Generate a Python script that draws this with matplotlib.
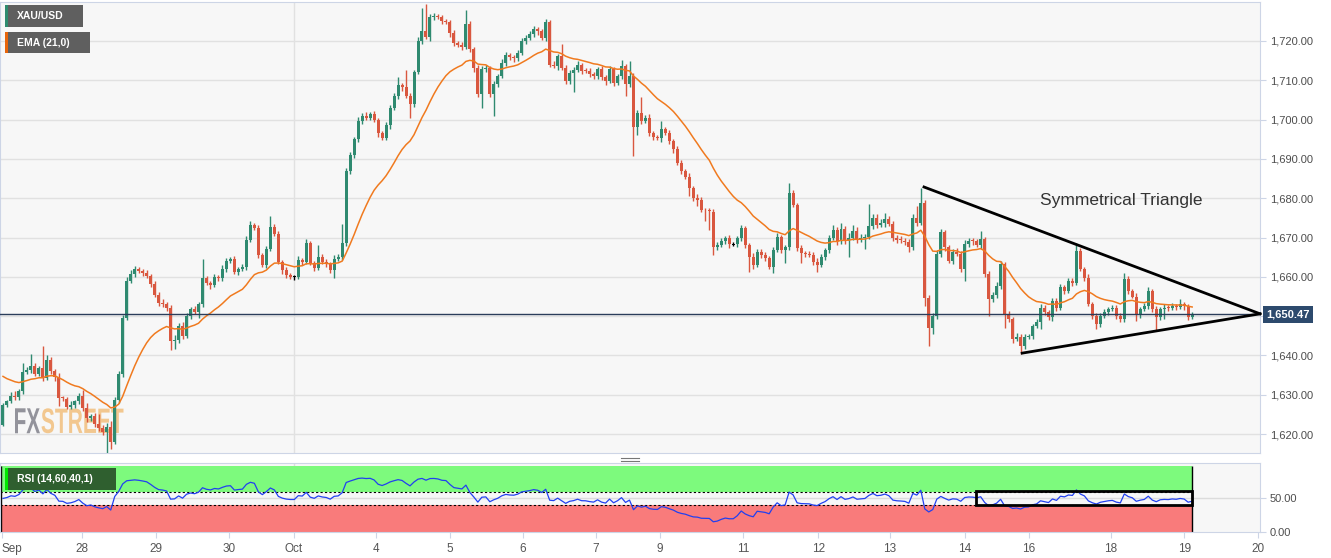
import numpy as np
import matplotlib
matplotlib.use("Agg")
import matplotlib.pyplot as plt
from matplotlib.patches import Rectangle, PathPatch
from matplotlib.lines import Line2D
from matplotlib.textpath import TextPath
from matplotlib.font_manager import FontProperties
from matplotlib.transforms import Affine2D, IdentityTransform, blended_transform_factory

plt.rcParams['font.family'] = ['Liberation Sans', 'DejaVu Sans']

# --- data (hourly XAU/USD candles) ---
first_open = 1622.4
closes = [
    1627.5, 1628.3, 1629.8, 1629.4, 1631.0, 1635.8, 1636.4, 1637.3, 1635.4, 1636.8,
    1634.3, 1638.8, 1636.0, 1634.5, 1629.2, 1629.0, 1627.0, 1627.4, 1628.3, 1629.8,
    1626.6, 1624.0, 1624.5, 1622.6, 1621.5, 1620.6, 1621.8, 1618.1, 1628.8, 1635.2,
    1649.6, 1659.0, 1660.7, 1662.0, 1661.6, 1661.0, 1660.3, 1658.1, 1655.5, 1653.4,
    1653.0, 1652.2, 1643.7, 1644.0, 1647.5, 1645.0, 1650.0, 1651.7, 1651.0, 1653.0,
    1659.8, 1658.4, 1657.8, 1660.0, 1659.6, 1662.0, 1664.0, 1664.5, 1661.3, 1662.0,
    1662.5, 1669.4, 1673.2, 1672.5, 1665.6, 1663.0, 1667.0, 1672.8, 1671.0, 1663.9,
    1661.7, 1660.5, 1660.0, 1660.0, 1664.3, 1663.9, 1668.5, 1663.5, 1662.2, 1665.0,
    1663.9, 1663.4, 1661.7, 1664.6, 1665.0, 1668.5, 1686.8, 1691.0, 1695.0, 1699.6,
    1700.9, 1700.5, 1701.3, 1700.0, 1696.5, 1695.4, 1698.5, 1703.0, 1706.0, 1708.8,
    1708.2, 1706.0, 1704.0, 1712.0, 1720.0, 1722.5, 1721.0, 1726.0, 1726.4, 1726.0,
    1725.0, 1724.8, 1722.0, 1719.5, 1719.0, 1718.5, 1724.2, 1717.9, 1713.0, 1706.4,
    1712.8, 1713.2, 1706.4, 1709.0, 1711.0, 1714.5, 1716.5, 1715.8, 1715.6, 1717.0,
    1720.0, 1720.8, 1721.7, 1723.0, 1722.5, 1720.8, 1724.7, 1714.0, 1713.5, 1716.2,
    1713.2, 1709.8, 1711.9, 1712.6, 1714.0, 1712.4, 1712.3, 1711.5, 1711.0, 1712.8,
    1710.7, 1709.8, 1712.8, 1709.4, 1711.0, 1713.6, 1709.0, 1711.0, 1698.0, 1701.7,
    1699.6, 1700.5, 1696.6, 1695.5, 1695.2, 1697.5, 1696.6, 1694.5, 1692.5, 1689.0,
    1686.9, 1685.5, 1682.6, 1680.0, 1679.5, 1677.0, 1676.8, 1676.6, 1667.7, 1668.1,
    1669.1, 1669.8, 1668.3, 1668.3, 1669.8, 1672.4, 1668.1, 1665.1, 1663.0, 1666.4,
    1665.5, 1664.7, 1662.6, 1666.9, 1670.2, 1666.9, 1667.5, 1681.3, 1678.3, 1667.3,
    1666.0, 1665.8, 1665.6, 1663.9, 1663.0, 1665.1, 1666.8, 1669.8, 1672.0, 1669.0,
    1672.1, 1669.2, 1670.0, 1671.7, 1669.4, 1669.8, 1670.1, 1673.0, 1675.0, 1673.2,
    1673.6, 1674.7, 1673.5, 1670.0, 1669.4, 1669.2, 1668.9, 1667.5, 1675.0, 1673.8,
    1678.9, 1654.7, 1647.1, 1650.0, 1665.8, 1671.3, 1667.5, 1664.1, 1666.4, 1665.8,
    1662.0, 1668.3, 1669.2, 1669.0, 1668.0, 1669.6, 1660.7, 1654.3, 1655.5, 1657.7,
    1663.2, 1650.5, 1649.2, 1644.2, 1644.8, 1642.5, 1644.7, 1645.0, 1647.5, 1648.4,
    1652.2, 1651.0, 1649.7, 1653.9, 1652.0, 1657.3, 1656.5, 1659.0, 1658.5, 1666.6,
    1662.0, 1659.8, 1653.0, 1650.1, 1648.0, 1650.1, 1651.0, 1651.8, 1652.2, 1650.1,
    1649.2, 1659.4, 1656.4, 1655.0, 1650.5, 1651.8, 1652.6, 1656.4, 1651.8, 1649.7,
    1651.8, 1652.2, 1652.0, 1652.6, 1652.3, 1653.0, 1652.5, 1649.7, 1650.47,
]
up_wick = [
    0.5, 0.4, 0.8, 1.2, 0.5, 2.2, 0.6, 3.0, 0.7, 0.5,
    5.6, 1.2, 0.8, 0.5, 1.0, 0.6, 0.4, 0.9, 0.5, 0.7,
    1.5, 1.2, 0.6, 0.8, 2.5, 0.7, 1.0, 1.5, 0.6, 0.8,
    0.7, 1.0, 1.0, 0.8, 0.6, 0.5, 0.7, 0.4, 0.8, 0.6,
    0.9, 0.5, 0.6, 1.2, 0.7, 1.0, 0.8, 0.6, 0.9, 0.7,
    4.8, 0.5, 0.6, 0.8, 0.5, 0.9, 0.7, 0.6, 0.8, 0.5,
    0.7, 0.9, 1.1, 0.6, 0.8, 0.5, 0.9, 2.6, 0.6, 0.7,
    0.5, 0.8, 0.6, 0.5, 0.9, 0.6, 1.0, 0.7, 0.5, 3.1,
    0.8, 0.6, 0.5, 0.9, 0.7, 5.0, 1.0, 0.8, 0.6, 1.0,
    0.7, 0.9, 0.6, 0.8, 0.5, 0.7, 0.9, 0.6, 0.8, 1.9,
    0.6, 4.3, 0.8, 0.7, 0.9, 6.0, 6.8, 0.8, 0.6, 0.5,
    0.7, 0.6, 0.5, 0.8, 0.6, 0.7, 3.6, 0.8, 0.6, 0.9,
    0.8, 0.7, 0.5, 0.9, 0.6, 0.8, 0.7, 0.5, 0.6, 0.8,
    0.7, 0.6, 0.9, 0.8, 0.6, 0.5, 0.8, 0.7, 0.9, 0.6,
    3.1, 0.8, 0.6, 0.7, 0.9, 0.5, 0.6, 0.8, 0.7, 0.6,
    0.9, 0.7, 0.8, 0.6, 0.7, 1.5, 0.6, 3.9, 0.8, 0.7,
    4.0, 0.6, 0.8, 0.5, 0.7, 2.1, 0.6, 0.8, 0.5, 0.9,
    0.7, 0.6, 0.8, 0.5, 1.0, 0.7, 0.6, 0.8, 0.6, 0.7,
    0.8, 0.5, 0.9, 0.6, 0.7, 0.8, 0.6, 0.5, 0.9, 0.7,
    0.6, 0.8, 0.7, 0.6, 0.9, 0.5, 0.7, 2.6, 0.8, 0.6,
    0.7, 0.5, 0.9, 0.6, 0.8, 0.7, 0.6, 0.9, 1.2, 0.7,
    1.5, 0.8, 1.2, 1.6, 0.9, 1.1, 0.7, 5.5, 0.9, 1.0,
    1.2, 1.5, 0.8, 0.7, 0.6, 0.9, 0.7, 0.8, 1.1, 3.0,
    3.8, 0.6, 0.8, 0.7, 1.0, 0.9, 0.7, 0.6, 0.8, 0.9,
    0.7, 1.0, 0.8, 0.6, 0.7, 2.0, 0.6, 0.8, 0.7, 0.9,
    0.8, 0.6, 0.7, 0.5, 0.8, 0.6, 0.7, 0.5, 0.6, 0.8,
    0.9, 0.7, 0.6, 0.8, 0.7, 0.9, 0.6, 0.8, 0.7, 1.9,
    0.7, 0.6, 0.8, 0.5, 0.7, 0.6, 0.8, 0.5, 0.7, 0.6,
    0.8, 1.7, 0.7, 0.6, 0.8, 0.5, 0.7, 0.9, 0.6, 0.7,
    0.5, 0.8, 0.6, 0.7, 0.5, 1.3, 0.6, 0.7, 0.5,
]
down_wick = [
    0.4, 0.6, 0.5, 0.8, 0.6, 0.7, 0.5, 0.9, 0.6, 0.7,
    0.8, 0.5, 0.6, 0.9, 2.0, 0.7, 0.6, 0.5, 0.8, 0.6,
    0.7, 0.9, 0.6, 0.8, 0.7, 0.9, 5.6, 2.0, 0.6, 0.8,
    0.7, 0.5, 0.6, 0.8, 0.5, 0.7, 0.6, 0.8, 0.5, 0.7,
    0.6, 0.8, 2.2, 2.0, 0.7, 0.9, 0.6, 0.8, 0.5, 1.5,
    0.7, 0.6, 0.9, 0.5, 0.7, 0.6, 0.8, 0.5, 0.7, 0.9,
    0.6, 0.8, 0.5, 0.7, 0.9, 0.6, 0.8, 0.5, 0.7, 0.6,
    0.9, 0.7, 0.5, 0.8, 0.6, 0.9, 0.7, 0.6, 0.8, 0.5,
    0.7, 0.9, 0.6, 2.0, 0.5, 0.8, 0.6, 0.7, 0.9, 0.6,
    0.8, 0.5, 0.7, 0.6, 0.9, 0.7, 0.5, 0.8, 0.6, 0.7,
    0.9, 0.6, 3.5, 0.7, 0.5, 0.8, 0.6, 1.0, 0.7, 0.5,
    0.8, 0.6, 0.9, 0.7, 0.5, 0.8, 0.6, 0.7, 0.9, 0.6,
    3.4, 0.8, 0.6, 5.5, 0.7, 0.5, 0.8, 0.6, 0.9, 0.7,
    0.6, 0.8, 0.5, 0.7, 0.9, 0.6, 0.8, 0.7, 0.5, 0.9,
    0.6, 0.8, 0.7, 4.8, 0.6, 0.9, 0.5, 0.7, 0.8, 0.6,
    0.7, 0.9, 0.6, 0.8, 0.5, 0.7, 3.0, 0.6, 7.3, 1.8,
    0.8, 0.6, 0.9, 0.7, 0.5, 0.8, 0.6, 0.7, 0.9, 0.6,
    0.8, 0.5, 2.0, 0.7, 1.5, 0.6, 2.5, 4.6, 2.1, 0.8,
    0.6, 0.7, 0.9, 0.5, 0.8, 0.6, 0.7, 3.8, 0.9, 0.6,
    0.8, 0.7, 0.5, 1.7, 0.6, 0.9, 3.5, 0.7, 0.6, 0.8,
    2.6, 0.7, 0.5, 0.9, 1.7, 0.6, 0.8, 0.7, 0.5, 0.9,
    0.6, 0.8, 4.2, 0.7, 0.9, 0.6, 2.8, 0.5, 0.8, 0.7,
    0.6, 0.9, 0.5, 0.8, 0.7, 0.6, 0.9, 1.2, 0.7, 0.8,
    0.6, 2.0, 4.6, 1.7, 0.8, 0.7, 0.9, 0.6, 0.8, 0.5,
    0.7, 3.0, 0.6, 0.8, 0.5, 0.9, 0.7, 4.3, 0.6, 0.8,
    0.7, 3.4, 0.6, 0.9, 0.5, 2.2, 0.8, 0.6, 0.7, 0.5,
    1.7, 0.8, 0.6, 0.9, 0.7, 0.5, 0.8, 0.6, 0.9, 0.7,
    0.6, 0.8, 0.5, 0.9, 1.3, 0.7, 0.6, 0.8, 0.5, 0.9,
    0.7, 0.6, 0.8, 0.5, 1.7, 0.9, 0.6, 0.8, 0.7, 3.4,
    0.6, 2.5, 0.7, 0.5, 0.8, 0.6, 0.9, 0.7, 0.5,
]
ema_seed = 1635.4
rsi_seed_gain, rsi_seed_loss = 0.8, 1.2

# day boundaries (in candle index units) and their labels
day_pos = [-0.25, 19.9, 38.3, 56.7, 72.8, 93.5, 112.0, 130.3, 148.6, 164.7,
           185.5, 204.3, 222.3, 241.1, 257.0, 277.6, 296.0, 314.6]
day_labels = ["Sep", "28", "29", "30", "Oct", "4", "5", "6", "7", "9",
              "11", "12", "13", "14", "16", "18", "19", "20"]

last_price = 1650.47
tri_upper_x, tri_upper_y = [230.8, 315.0], [1682.85, 1650.6]
tri_lower_x, tri_lower_y = [255.4, 315.0], [1640.6, 1650.6]
rsi_box_x, rsi_box_y = [243.9, 298.0], [40.0, 61.4]

# --- derived series ---
c = np.array(closes)
o = np.r_[first_open, c[:-1]]
hi = np.maximum(o, c) + np.array(up_wick)
lo = np.minimum(o, c) - np.array(down_wick)
x = np.arange(len(c))

ema = []
e = ema_seed
for v in c:
    e = e + 2 / 22 * (v - e)
    ema.append(e)

rsi = []
ag, al = rsi_seed_gain, rsi_seed_loss
for d in np.diff(np.r_[first_open, c]):
    ag = (ag * 13 + max(d, 0)) / 14
    al = (al * 13 + max(-d, 0)) / 14
    rsi.append(100 - 100 / (1 + ag / al))

GREEN, RED = "#2f8a70", "#d9573f"
cols = np.where(c - o > 0.05, GREEN, np.where(o - c > 0.05, RED, "black"))

W, H = 1331, 558
fig = plt.figure(figsize=(W / 100, H / 100), dpi=100)
fig.patch.set_facecolor("white")
ax = fig.add_axes([0, 1 - 453 / H, 1260 / W, 451 / H])
ax2 = fig.add_axes([0, 1 - 531.7 / H, 1260 / W, 68.4 / H])
xlim = (-0.75, 315.0)
spine_c = "#cdd5e6"

# ---- main price panel ----
ax.set_facecolor("#f7f7f7")
ax.set_xlim(*xlim)
ax.set_ylim(1615.2, 1729.9)
ax.grid(axis="y", color="#e1e1e1", lw=1, zorder=0)
ax.axvline(day_pos[4], color="#e1e1e1", lw=1, zorder=0)

# watermark
fp = FontProperties(family=["Liberation Sans Narrow", "Liberation Sans"], weight="bold")
for word, x0, wpx, colr in [("FX", 15, 25, "#8e8e96"), ("STREET", 41.5, 82, "#f2c58a")]:
    tp = TextPath((0, 0), word, size=35, prop=fp)
    ext = tp.get_extents()
    sx = wpx / ext.width
    sy = 25 / ext.height
    tr = Affine2D().translate(-ext.x0, -ext.y0).scale(sx, sy).translate(x0, H - 433.3)
    ax.add_patch(PathPatch(tp, transform=tr + IdentityTransform(), color=colr,
                           lw=0, alpha=0.95, zorder=1, clip_on=False))

bh = np.where(np.abs(c - o) < 0.25, 0.25, c - o)
bb = np.where(np.abs(c - o) < 0.25, o - 0.125, o)
ax.vlines(x, lo, hi, colors=cols, lw=1, zorder=3)
ax.bar(x, bh, bottom=bb, width=0.75, color=cols, lw=0, zorder=4)
ax.plot(x, ema, color="#f07a1f", lw=1.1, zorder=5)

ax.axhline(last_price, color="#2b3d5a", lw=1, zorder=5)
ax.plot(tri_upper_x, tri_upper_y, color="black", lw=2, zorder=6, clip_on=False)
ax.plot(tri_lower_x, tri_lower_y, color="black", lw=2, zorder=6, clip_on=False)
ax.text(280.2, 1679.5, "Symmetrical Triangle", ha="center", va="center",
        fontsize=12.5, color="#333333", zorder=6)

ax.yaxis.tick_right()
yt = np.arange(1620, 1721, 10)
ax.set_yticks(yt)
# the 1,650.00 label sits under the last-price box, as in the original
ax.set_yticklabels(["" if v == 1650 else f"{v:,.2f}" for v in yt])
ax.tick_params(axis="y", length=4, color=spine_c, labelsize=8, labelcolor="#4d4d4d", pad=3)
ax.set_xticks([])
for s in ax.spines.values():
    s.set_color(spine_c)

btr = blended_transform_factory(ax.transAxes, ax.transData)
ax.text(1.0 + 6 / 1260, last_price, f"{last_price:,.2f}", transform=btr, ha="left",
        va="center", fontsize=8, weight="bold", color="white", zorder=10, clip_on=False,
        bbox=dict(boxstyle="square,pad=0.3", fc="#2d4a6d", ec="none"))

# ---- RSI panel ----
ax2.set_facecolor("#f7f7f7")
ax2.set_xlim(*xlim)
ax2.set_ylim(0, 102.4)
ax2.axhline(50, color="#dcdcdc", lw=1, zorder=0)
ax2.axvline(day_pos[4], color="#dcdcdc", lw=1, zorder=0)
ax2.fill_between([xlim[0], x[-1]], 60, 99, color="#7dfa7d", lw=0, zorder=1)
ax2.fill_between([xlim[0], x[-1]], 0, 40, color="#f97b7b", lw=0, zorder=1)
ax2.hlines([60, 40], xlim[0], x[-1], colors="black", linestyles=(0, (2, 2)), lw=0.8, zorder=2)
ax2.vlines([x[-1]], 0, 99, colors="black", lw=1, zorder=2)
ax2.vlines([xlim[0] + 0.3], 0, 99, colors="black", lw=1, zorder=2)
ax2.plot(x, rsi, color="#2140f0", lw=0.9, zorder=3)
ax2.add_patch(Rectangle((rsi_box_x[0], rsi_box_y[0]), rsi_box_x[1] - rsi_box_x[0],
                        rsi_box_y[1] - rsi_box_y[0], fill=False, ec="black", lw=2, zorder=4))

ax2.yaxis.tick_right()
ax2.set_yticks([0, 50])
ax2.set_yticklabels(["0.00", "50.00"])
ax2.set_xticks(day_pos)
ax2.set_xticklabels(day_labels)
ax2.tick_params(axis="y", length=4, color=spine_c, labelsize=8, labelcolor="#4d4d4d", pad=3)
ax2.tick_params(axis="x", length=4, color=spine_c, labelsize=8.5, labelcolor="#555555", pad=4)
ax2.get_xticklabels()[0].set_ha("left")
for s in ax2.spines.values():
    s.set_color(spine_c)


# ---- labels drawn in figure pixels ----
def px_rect(x0, y0, w, h, color):
    fig.add_artist(Rectangle((x0 / W, 1 - (y0 + h) / H), w / W, h / H,
                             transform=fig.transFigure, color=color, lw=0, zorder=5))


def label_box(x0, y0, w, h, bar, bg, text):
    px_rect(x0, y0, w, h, bg)
    px_rect(x0, y0, 2.5, h, bar)
    fig.text((x0 + 12) / W, 1 - (y0 + h / 2) / H, text, color="white", fontsize=7.5,
             weight="bold", va="center", ha="left", zorder=6)


label_box(5, 5, 78, 22, "#2e8b6e", "#5f5f5f", "XAU/USD")
label_box(5, 32, 85, 21, "#e8650a", "#5f5f5f", "EMA (21,0)")
label_box(5, 468, 111, 22, "#00e600", "#2f5f2f", "RSI (14,60,40,1)")

for yy in (457.5, 460.5):
    fig.add_artist(Line2D([621 / W, 639 / W], [1 - yy / H] * 2, transform=fig.transFigure,
                          color="#777777", lw=0.8))

fig.savefig("out.png", dpi=100)
